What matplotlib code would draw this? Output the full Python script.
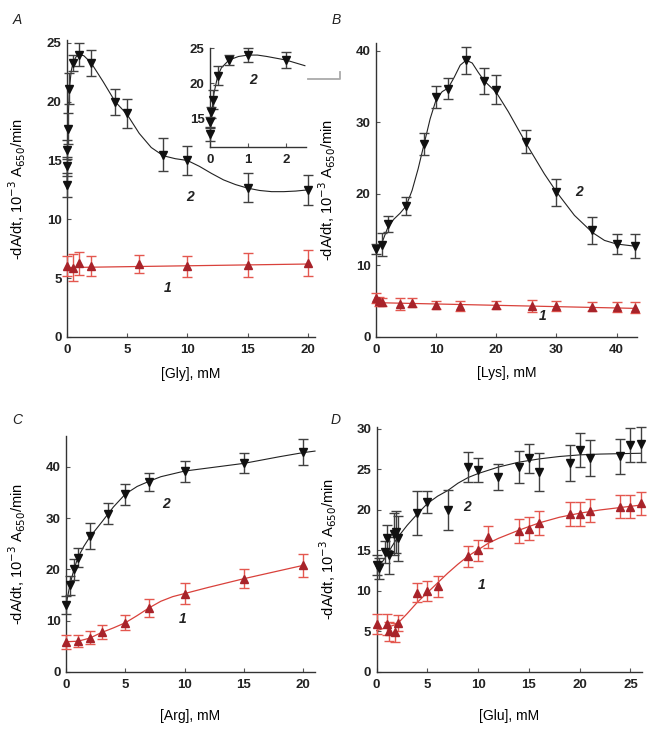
import matplotlib
matplotlib.use('Agg')
import matplotlib.pyplot as plt
from matplotlib.lines import Line2D

plt.rcParams['font.family'] = ['Liberation Sans', 'DejaVu Sans']

# ---- data ----
# A: Gly
gly_x1 = [0, 0.5, 1, 2, 6, 10, 15, 20]
gly_y1 = [6.0, 5.9, 6.25, 6.0, 6.2, 6.0, 6.1, 6.3]
gly_e1 = [0.85, 1.15, 1.0, 0.85, 0.8, 0.9, 1.0, 1.1]
gly_x2 = [0, 0.01, 0.03, 0.07, 0.2, 0.5, 1, 2, 4, 5, 8, 10, 15, 20]
gly_y2 = [12.9, 14.5, 15.9, 17.7, 21.1, 23.3, 24.0, 23.3, 20.0, 19.0, 15.5, 15.0, 12.7, 12.5]
gly_e2 = [1.0, 0.8, 0.8, 1.3, 1.3, 0.7, 1.0, 1.1, 1.1, 1.2, 1.4, 1.2, 1.2, 1.3]
gly_fit1_x = [0, 20]
gly_fit1_y = [5.9, 6.2]
gly_fit2_x = [0, 0.05, 0.1, 0.2, 0.35, 0.5, 0.75, 1, 1.4, 2, 3, 4, 5, 6, 7, 8, 9, 10,
              11, 12, 13, 14, 15, 16, 17, 18, 19, 20]
gly_fit2_y = [12.6, 16.0, 18.5, 21.1, 22.6, 23.3, 23.8, 24.0, 23.9, 23.3, 21.7, 20.0, 18.9,
              17.3, 16.1, 15.4, 15.15, 15.0, 14.5, 13.9, 13.35, 12.95, 12.65, 12.45, 12.35,
              12.35, 12.4, 12.5]
# inset of A (first 8 points of curve 2)
ins_fit_x = [0, 0.05, 0.1, 0.2, 0.3, 0.5, 0.75, 1, 1.25, 1.5, 2, 2.5]
ins_fit_y = [12.6, 16.0, 18.5, 21.0, 22.2, 23.3, 23.8, 24.0, 24.0, 23.8, 23.3, 22.5]

# B: Lys
lys_x1 = [0, 0.5, 1, 4, 6, 10, 14, 20, 26, 30, 36, 40, 43]
lys_y1 = [5.4, 5.0, 4.9, 4.6, 4.8, 4.5, 4.4, 4.5, 4.35, 4.4, 4.25, 4.2, 4.1]
lys_e1 = [0.7, 0.6, 0.6, 0.8, 0.6, 0.6, 0.7, 0.6, 0.8, 0.7, 0.6, 0.7, 0.8]
lys_x2 = [0, 1, 2, 5, 8, 10, 12, 15, 18, 20, 25, 30, 36, 40, 43]
lys_y2 = [12.3, 12.9, 15.8, 18.3, 27.0, 33.6, 34.7, 38.7, 35.8, 34.6, 27.3, 20.2, 14.9, 13.0, 12.7]
lys_e2 = [0.75, 1.6, 1.15, 1.25, 1.5, 1.55, 1.45, 1.9, 1.8, 2.0, 1.6, 1.85, 1.85, 1.35, 1.65]
lys_fit1_x = [0, 43]
lys_fit1_y = [4.8, 4.0]
lys_fit2_x = [0, 1, 2, 3, 4, 5, 6, 7, 8, 9, 10, 11, 12, 13, 14, 15, 16, 17, 18, 19, 20,
              22, 25, 28, 30, 33, 36, 38, 40, 43]
lys_fit2_y = [12.3, 13.2, 15.4, 16.5, 17.3, 18.3, 20.5, 23.5, 27.0, 30.5, 33.2, 34.3, 34.8,
              36.3, 38.0, 38.7, 38.3, 37.0, 35.8, 35.0, 34.2, 31.5, 27.0, 22.8, 20.3, 17.0,
              14.6, 13.5, 13.0, 12.7]

# C: Arg
arg_x1 = [0, 1, 2, 3, 5, 7, 10, 15, 20]
arg_y1 = [5.85, 6.0, 6.7, 7.8, 9.6, 12.5, 15.3, 18.2, 20.8]
arg_e1 = [1.3, 1.15, 1.3, 1.3, 1.5, 1.8, 2.0, 1.9, 2.2]
arg_x2 = [0, 0.33, 0.67, 1, 2, 3.5, 5, 7, 10, 15, 20]
arg_y2 = [13.1, 16.9, 20.0, 22.3, 26.5, 30.9, 34.7, 37.1, 39.2, 40.8, 42.9]
arg_e2 = [1.7, 1.85, 2.0, 1.85, 2.5, 2.0, 2.05, 1.8, 2.05, 1.95, 2.55]
arg_fit1_x = [0, 1, 2, 3, 4, 5, 6, 7, 8, 9, 10, 12, 15, 17.5, 20]
arg_fit1_y = [5.9, 6.0, 6.6, 7.7, 8.6, 9.6, 11.0, 12.5, 13.8, 14.7, 15.3, 16.5, 18.2, 19.5, 20.8]
arg_fit2_x = [0, 0.33, 0.67, 1, 1.5, 2, 3, 4, 5, 6, 7, 8, 10, 12, 15, 18, 20, 21]
arg_fit2_y = [13.0, 17.0, 20.0, 22.3, 24.5, 26.3, 29.2, 32.2, 34.7, 36.2, 37.2, 38.1, 39.2,
              39.8, 40.7, 42.0, 42.8, 43.1]

# D: Glu
glu_x1 = [0, 1, 1.2, 1.8, 2.1, 4, 5, 6, 9, 10, 11, 14, 15, 16, 19, 20, 21, 24, 25, 26]
glu_y1 = [5.9, 5.9, 5.0, 4.9, 6.0, 9.8, 10.0, 10.6, 14.3, 15.0, 16.7, 17.4, 17.7, 18.4,
          19.5, 19.5, 19.9, 20.4, 20.4, 20.8]
glu_e1 = [1.2, 1.3, 1.2, 1.2, 1.0, 1.2, 1.2, 1.3, 1.3, 1.3, 1.35, 1.45, 1.4, 1.45,
          1.45, 1.45, 1.4, 1.4, 1.4, 1.4]
glu_x2 = [0, 0.2, 0.8, 1.0, 1.2, 1.7, 1.9, 2.1, 4, 5, 7, 9, 10, 12, 14, 15, 16, 19, 20,
          21, 24, 25, 26]
glu_y2 = [13.2, 12.8, 14.8, 16.6, 14.4, 17.0, 17.3, 16.5, 19.6, 21.0, 20.0, 25.3, 24.9,
          24.1, 25.3, 26.4, 24.7, 25.8, 27.4, 26.4, 26.6, 28.0, 28.1]
glu_e2 = [1.2, 1.3, 1.4, 1.55, 2.3, 2.6, 2.6, 2.8, 2.7, 1.4, 2.5, 1.85, 1.5, 1.6, 2.0,
          1.8, 2.3, 2.2, 2.1, 2.2, 2.1, 2.1, 2.2]
glu_fit1_x = [0, 1, 2, 3, 4, 5, 6, 7, 8, 9, 10, 11, 12, 14, 16, 18, 20, 22, 24, 26]
glu_fit1_y = [5.1, 5.5, 5.9, 7.2, 8.6, 9.8, 11.0, 12.2, 13.3, 14.3, 15.1, 15.9, 16.5, 17.5,
              18.4, 19.1, 19.6, 20.0, 20.3, 20.6]
glu_fit2_x = [0.2, 0.5, 1, 1.5, 2, 3, 4, 5, 6, 7, 8, 9, 10, 12, 14, 16, 18, 20, 22, 24, 26]
glu_fit2_y = [13.0, 13.5, 14.4, 15.5, 16.5, 18.1, 19.5, 20.8, 21.7, 22.4, 23.3, 24.0, 24.5,
              25.3, 25.9, 26.3, 26.6, 26.8, 26.9, 26.95, 27.0]

RED_LINE = '#d9413b'
RED_MARK = '#a8232a'
RED_ERR = '#e4574f'
BLK_MARK = '#111111'
BLK_ERR = '#404040'

ylabel = '-dA/dt, 10$^{-3}$ A$_{650}$/min'


def style_axes(ax, xticks, yticks, xlim, ylim):
    ax.set_xlim(*xlim)
    ax.set_ylim(*ylim)
    ax.set_xticks(xticks)
    ax.set_yticks(yticks)
    for s in ['top', 'right']:
        ax.spines[s].set_visible(False)
    for s in ['left', 'bottom']:
        ax.spines[s].set_color('#333333')
        ax.spines[s].set_linewidth(1.0)
    ax.tick_params(direction='in', length=3, width=0.8, color='#555555',
                   labelsize=9.5, pad=4)
    ax.tick_params(axis='x', pad=5)
    for lab in ax.get_xticklabels() + ax.get_yticklabels():
        lab.set_fontweight('bold')
        lab.set_color('#222222')


def draw(ax, x, y, e, fx, fy, red):
    if red:
        ax.plot(fx, fy, color=RED_LINE, lw=0.9, zorder=2, clip_on=False)
        ax.errorbar(x, y, yerr=e, fmt='^', ms=5.5, color=RED_MARK, ecolor=RED_ERR,
                    elinewidth=1.0, capsize=3.5, capthick=1.0, zorder=3, clip_on=False)
    else:
        ax.plot(fx, fy, color='#222222', lw=0.8, zorder=2, clip_on=False)
        ax.errorbar(x, y, yerr=e, fmt='v', ms=5.5, color=BLK_MARK, ecolor=BLK_ERR,
                    elinewidth=1.0, capsize=3.5, capthick=1.0, zorder=3, clip_on=False)


def num(ax, x, y, s):
    ax.text(x, y, s, fontsize=10, fontweight='bold', style='italic',
            ha='center', va='center', color='#222222')


fig = plt.figure(figsize=(6.64, 7.34), dpi=100)

axA = fig.add_axes([0.1009, 0.5409, 0.3735, 0.404])
axB = fig.add_axes([0.5663, 0.5409, 0.393, 0.4005])
axC = fig.add_axes([0.0994, 0.0845, 0.375, 0.3212])
axD = fig.add_axes([0.5673, 0.0845, 0.399, 0.3344])

# A
draw(axA, gly_x1, gly_y1, gly_e1, gly_fit1_x, gly_fit1_y, True)
draw(axA, gly_x2, gly_y2, gly_e2, gly_fit2_x, gly_fit2_y, False)
style_axes(axA, [0, 5, 10, 15, 20], [0, 5, 10, 15, 20, 25], (0, 20.6), (0, 25.2))
num(axA, 10.2, 11.9, '2')
num(axA, 8.4, 4.2, '1')
axA.set_xlabel('[Gly], mM', fontsize=10)
axA.xaxis.set_label_coords(0.5, -0.10)

# inset
axI = fig.add_axes([0.3163, 0.7997, 0.1446, 0.1349])
axI.patch.set_alpha(0)
draw(axI, gly_x2[:8], gly_y2[:8], gly_e2[:8], ins_fit_x, ins_fit_y, False)
style_axes(axI, [0, 1, 2], [15, 20, 25], (0, 2.53), (11, 25))
num(axI, 1.13, 20.5, '2')

# B
draw(axB, lys_x1, lys_y1, lys_e1, lys_fit1_x, lys_fit1_y, True)
draw(axB, lys_x2, lys_y2, lys_e2, lys_fit2_x, lys_fit2_y, False)
style_axes(axB, [0, 10, 20, 30, 40], [0, 10, 20, 30, 40], (0, 43.4), (0, 41.1))
num(axB, 33.7, 20.2, '2')
num(axB, 27.7, 2.9, '1')
axB.set_xlabel('[Lys], mM', fontsize=10)
axB.xaxis.set_label_coords(0.5, -0.10)

# C
draw(axC, arg_x1, arg_y1, arg_e1, arg_fit1_x, arg_fit1_y, True)
draw(axC, arg_x2, arg_y2, arg_e2, arg_fit2_x, arg_fit2_y, False)
style_axes(axC, [0, 5, 10, 15, 20], [0, 10, 20, 30, 40], (0, 21), (0, 46))
num(axC, 8.4, 32.8, '2')
num(axC, 9.8, 10.4, '1')
axC.set_xlabel('[Arg], mM', fontsize=10)
axC.xaxis.set_label_coords(0.5, -0.157)

# D
draw(axD, glu_x1, glu_y1, glu_e1, glu_fit1_x, glu_fit1_y, True)
draw(axD, glu_x2, glu_y2, glu_e2, glu_fit2_x, glu_fit2_y, False)
style_axes(axD, [0, 5, 10, 15, 20, 25], [0, 5, 10, 15, 20, 25, 30], (0, 26.1), (0, 30.3))
num(axD, 8.9, 20.4, '2')
num(axD, 10.3, 10.7, '1')
axD.set_xlabel('[Glu], mM', fontsize=10)
axD.xaxis.set_label_coords(0.5, -0.152)

for ax, xc in [(axA, -0.157), (axB, -0.146), (axC, -0.153), (axD, -0.144)]:
    ax.set_ylabel(ylabel, fontsize=10.5)
    ax.yaxis.set_label_coords(xc, 0.5)

# panel letters
for lx, ly, s in [(17, 20, 'A'), (336, 20, 'B'), (17, 420, 'C'), (336, 420, 'D')]:
    fig.text(lx / 664, 1 - ly / 734, s, fontsize=10, style='italic',
             ha='center', va='center', color='#222222')

# small gray bracket next to the inset
fig.add_artist(Line2D([307.7 / 664, 340 / 664, 340 / 664],
                      [1 - 79 / 734, 1 - 79 / 734, 1 - 72 / 734],
                      transform=fig.transFigure, color='#aaaaaa', lw=1.3))

fig.savefig('out.png', dpi=100)
